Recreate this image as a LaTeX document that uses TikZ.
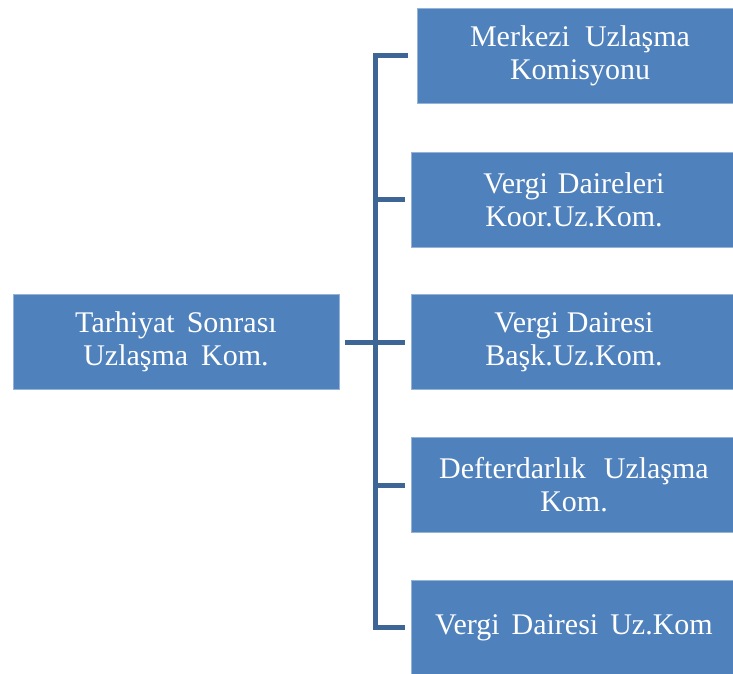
\documentclass[tikz,border=0pt]{standalone}
\usepackage{fontspec}
\setmainfont{Liberation Serif}
\definecolor{boxblue}{HTML}{4F81BD}
\definecolor{linkblue}{RGB}{61,101,150}
\tikzset{
  orgbox/.style={rectangle, fill=boxblue, draw=boxblue!60!white, line width=0.8pt,
    minimum width=326pt, minimum height=95pt, inner sep=0pt, text=white,
    align=center, font=\fontsize{30}{33}\selectfont},
  link/.style={draw=linkblue, line width=5pt, line join=miter}
}
\begin{document}
\begin{tikzpicture}[x=1pt,y=-1pt]
\useasboundingbox (0,0) rectangle (733,673);
\node[orgbox] (L) at (176,342) {Tarhiyat\hspace{12pt}Sonrası\\Uzlaşma\hspace{13pt}Kom.};
\node[orgbox] (b1) at (580,55.5) {Merkezi\hspace{15pt}Uzlaşma\\Komisyonu};
\node[orgbox] (b2) at (574,199.5) {Vergi\hspace{10pt}Daireleri\\Koor.Uz.Kom.};
\node[orgbox] (b3) at (574,342) {Vergi\hspace{8pt}Dairesi\\Başk.Uz.Kom.};
\node[orgbox] (b4) at (574,485) {Defterdarlık\hspace{18pt}Uzlaşma\\Kom.};
\node[orgbox] (b5) at (574,627.5) {Vergi\hspace{12pt}Dairesi\hspace{12pt}Uz.Kom};
\coordinate (bus) at (375,342);
\draw[link] ([xshift=6pt]L.east) -- ([xshift=-6pt]b3.west);
\draw[link] ([xshift=-9pt]b1.west) -| (bus) |- ([xshift=-6pt]b5.west);
\draw[link] (bus |- b2.west) -- ([xshift=-6pt]b2.west);
\draw[link] (bus |- b4.west) -- ([xshift=-6pt]b4.west);
\end{tikzpicture}
\end{document}
